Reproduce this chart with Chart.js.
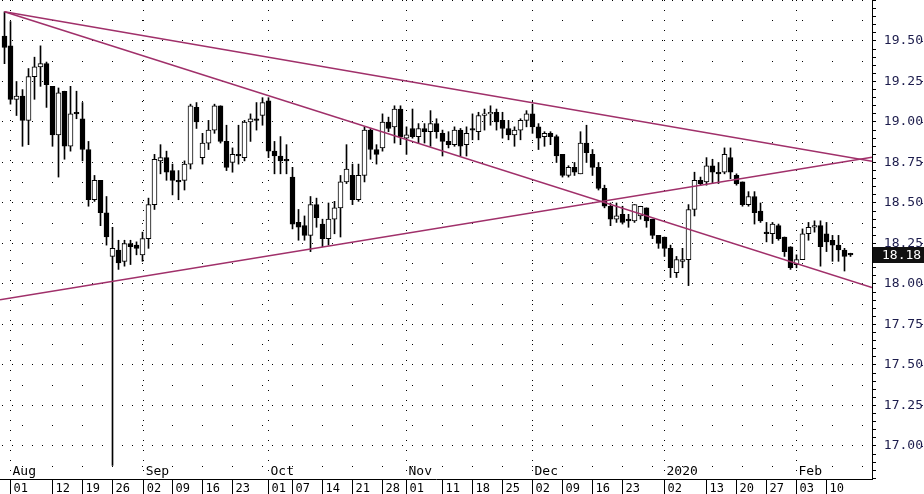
<!DOCTYPE html>
<html>
<head>
<meta charset="utf-8">
<script src="https://cdn.jsdelivr.net/npm/chart.js@4.4.1/dist/chart.umd.min.js"></script>
<style>
  html, body { margin: 0; padding: 0; background: #fff; }
</style>
</head>
<body>
<canvas id="chart" width="924" height="494"></canvas>
<script>
// daily candles, 31 Jul 2019 .. 14 Feb 2020 (index = trading day)
const opens = [
  19.53, 19.47, 19.14, 19.16, 19.01, 19.28, 19.34, 19.36, 19.22, 18.92,
  19.19, 18.85, 19.06, 19.02, 18.83, 18.52, 18.64, 18.44, 18.17, 18.21,
  18.14, 18.25, 18.24, 18.18, 18.28, 18.49, 18.76, 18.78, 18.70, 18.64,
  18.64, 18.74, 19.09, 18.78, 18.87, 18.95, 19.10, 18.88, 18.75, 18.80,
  18.78, 19.00, 19.02, 19.04, 19.13, 18.82, 18.79, 18.77, 18.66, 18.38,
  18.36, 18.30, 18.49, 18.37, 18.28, 18.40, 18.47, 18.63, 18.67, 18.52,
  18.67, 18.95, 18.83, 18.84, 19.00, 18.97, 19.08, 18.90, 18.96, 18.91,
  18.96, 18.94, 18.99, 18.93, 18.88, 18.86, 18.95, 18.86, 18.96, 18.94,
  19.04, 19.05, 19.06, 19.01, 18.96, 18.92, 18.95, 19.01, 19.05, 18.97,
  18.91, 18.93, 18.91, 18.80, 18.67, 18.72, 18.68, 18.87, 18.80, 18.72,
  18.59, 18.48, 18.40, 18.43, 18.40, 18.39, 18.42, 18.47, 18.40, 18.30,
  18.29, 18.22, 18.07, 18.14, 18.15, 18.46, 18.64, 18.63, 18.73, 18.69,
  18.69, 18.78, 18.67, 18.63, 18.49, 18.54, 18.45, 18.32, 18.31, 18.36,
  18.29, 18.23, 18.12, 18.15, 18.31, 18.35, 18.36, 18.31, 18.27, 18.24,
  18.21, 18.19
];
const highs = [
  19.68, 19.62, 19.25, 19.20, 19.33, 19.40, 19.47, 19.37, 19.22, 19.21,
  19.19, 19.22, 19.19, 19.12, 18.88, 18.67, 18.64, 18.54, 18.35, 18.27,
  18.27, 18.27, 18.26, 18.32, 18.53, 18.80, 18.86, 18.82, 18.74, 18.70,
  18.76, 19.11, 19.12, 18.93, 19.01, 19.11, 19.10, 18.98, 18.84, 18.98,
  19.01, 19.05, 19.12, 19.15, 19.15, 18.88, 18.91, 18.86, 18.72, 18.46,
  18.42, 18.54, 18.53, 18.40, 18.50, 18.51, 18.67, 18.86, 18.74, 18.74,
  18.97, 18.96, 18.86, 19.05, 19.03, 19.10, 19.10, 18.97, 19.08, 18.99,
  18.99, 19.07, 19.02, 18.95, 18.94, 18.97, 18.96, 18.97, 19.05, 19.06,
  19.08, 19.10, 19.08, 19.06, 19.01, 18.97, 19.02, 19.07, 19.11, 18.99,
  18.94, 18.94, 18.92, 18.80, 18.73, 18.75, 18.94, 18.98, 18.83, 18.75,
  18.61, 18.50, 18.50, 18.48, 18.43, 18.49, 18.48, 18.47, 18.40, 18.30,
  18.29, 18.24, 18.17, 18.22, 18.49, 18.69, 18.66, 18.78, 18.77, 18.75,
  18.84, 18.84, 18.68, 18.63, 18.57, 18.57, 18.50, 18.38, 18.38, 18.37,
  18.29, 18.23, 18.18, 18.34, 18.38, 18.39, 18.39, 18.38, 18.30, 18.30,
  18.22, 18.19
];
const lows = [
  19.36, 19.11, 19.04, 18.85, 18.86, 19.14, 19.22, 19.09, 18.85, 18.66,
  18.77, 18.82, 19.02, 18.76, 18.48, 18.51, 18.36, 18.24, 16.88, 18.09,
  18.11, 18.12, 18.18, 18.14, 18.22, 18.46, 18.68, 18.64, 18.55, 18.52,
  18.58, 18.71, 18.96, 18.74, 18.83, 18.93, 18.87, 18.70, 18.69, 18.74,
  18.76, 18.88, 18.95, 18.98, 18.78, 18.68, 18.68, 18.68, 18.34, 18.27,
  18.27, 18.20, 18.35, 18.23, 18.24, 18.31, 18.29, 18.62, 18.49, 18.51,
  18.63, 18.77, 18.74, 18.82, 18.94, 18.87, 18.86, 18.80, 18.90, 18.87,
  18.87, 18.85, 18.90, 18.79, 18.84, 18.85, 18.79, 18.79, 18.89, 18.89,
  18.95, 18.98, 18.95, 18.90, 18.89, 18.85, 18.89, 18.97, 18.93, 18.83,
  18.85, 18.86, 18.75, 18.66, 18.66, 18.67, 18.68, 18.75, 18.67, 18.58,
  18.47, 18.36, 18.38, 18.37, 18.35, 18.38, 18.40, 18.35, 18.28, 18.22,
  18.17, 18.04, 18.04, 18.10, 17.99, 18.42, 18.61, 18.61, 18.62, 18.62,
  18.68, 18.65, 18.61, 18.48, 18.48, 18.37, 18.38, 18.26, 18.25, 18.27,
  18.17, 18.09, 18.10, 18.15, 18.27, 18.32, 18.11, 18.20, 18.14, 18.14,
  18.08, 18.17
];
const closes = [
  19.46, 19.14, 19.16, 19.01, 19.28, 19.34, 19.36, 19.23, 18.92, 19.18,
  18.85, 19.05, 19.05, 18.83, 18.52, 18.64, 18.44, 18.29, 18.22, 18.13,
  18.25, 18.23, 18.22, 18.28, 18.49, 18.77, 18.78, 18.69, 18.64, 18.63,
  18.74, 19.10, 19.00, 18.87, 18.95, 19.10, 18.88, 18.72, 18.80, 18.79,
  19.00, 19.02, 19.01, 19.12, 18.82, 18.79, 18.76, 18.76, 18.37, 18.35,
  18.30, 18.49, 18.41, 18.28, 18.40, 18.47, 18.63, 18.71, 18.52, 18.67,
  18.95, 18.83, 18.80, 19.00, 18.96, 19.08, 18.91, 18.92, 18.91, 18.96,
  18.94, 18.99, 18.94, 18.88, 18.86, 18.95, 18.85, 18.93, 18.95, 19.04,
  19.05, 19.06, 19.00, 18.96, 18.92, 18.95, 19.01, 19.05, 18.97, 18.90,
  18.93, 18.91, 18.79, 18.67, 18.72, 18.69, 18.87, 18.81, 18.72, 18.59,
  18.48, 18.40, 18.42, 18.38, 18.39, 18.49, 18.48, 18.39, 18.30, 18.25,
  18.22, 18.10, 18.15, 18.15, 18.46, 18.64, 18.62, 18.73, 18.69, 18.68,
  18.80, 18.69, 18.62, 18.49, 18.54, 18.44, 18.39, 18.31, 18.37, 18.28,
  18.20, 18.10, 18.15, 18.31, 18.35, 18.36, 18.23, 18.26, 18.24, 18.21,
  18.17, 18.18
];

// bottom axis: week ticks and month captions (positions in trading-day index)
const dayTickIdx = [1, 8, 13, 18, 23.2, 28, 33, 38, 44, 48, 53, 58, 63, 67, 73, 78, 83, 88, 93, 98, 103, 110, 117, 122, 127, 132, 137];
const dayTickLabels = ['01', '12', '19', '26', '02', '09', '16', '23', '01', '07', '14', '21', '28', '01', '11', '18', '25', '02', '09', '16', '23', '02', '13', '20', '27', '03', '10'];
const monthIdx = [1, 23.2, 44, 67, 88, 110, 132];
const monthLabels = ['Aug', 'Sep', 'Oct', 'Nov', 'Dec', '2020', 'Feb'];

// price axis labels
const yLabelValues = [17.00, 17.25, 17.50, 17.75, 18.00, 18.25, 18.50, 18.75, 19.00, 19.25, 19.50];

// hand drawn trend lines [index, price]
const trendUpper = [[0, 19.68], [144.58, 18.757]];
const trendLower = [[0, 19.68], [144.58, 17.978]];
const trendRising = [[-0.75, 17.902], [144.58, 18.783]];

const xMin = -0.75;
const xMax = -0.75 + 872 / 6;
const yMax = 19.753;
const yMin = yMax - 479 / 162;

const lineColor = '#a0306a';
const labelFont = { family: 'DejaVu Sans Mono', size: 13, lineHeight: 0 };

const idx = closes.map((c, i) => i);
const bodies = idx.map(i => ({ x: i, y: [opens[i], closes[i]] }));
const wicks = idx.map(i => ({ x: i, y: [lows[i], highs[i]] }));

function toPoints(arr) {
  return arr.map(p => ({ x: p[0], y: p[1] }));
}

function yKind(v) {
  const m = Math.round(v * 1000);
  if (m % 250 === 0) return 'major';
  if (m % 125 === 0) return 'half';
  return 'minor';
}

// y tick list: every 0.05 plus the 0.125 dotted rows
const yTickValues = [];
for (let k = 336; k <= 395; k++) yTickValues.push(k * 5 / 100);
for (let k = 135; k <= 157; k += 2) yTickValues.push(k * 125 / 1000);

const overlay = {
  id: 'overlay',
  afterDraw(chart) {
    const { ctx, chartArea } = chart;
    const x = chart.scales.x;
    const y = chart.scales.y;
    ctx.save();
    ctx.fillStyle = '#000';
    ctx.font = '13px "DejaVu Sans Mono"';
    ctx.textAlign = 'left';
    ctx.textBaseline = 'alphabetic';
    monthLabels.forEach((m, k) => {
      ctx.fillText(m, x.getPixelForValue(monthIdx[k]) + 2, chartArea.bottom - 4);
    });

    // little marks at the far right of each price label
    ctx.fillStyle = '#1c1c4c';
    yLabelValues.forEach(v => {
      ctx.fillRect(chart.width - 3, Math.round(y.getPixelForValue(v)), 2, 1);
    });

    // last price box
    const last = closes[closes.length - 1];
    const py = Math.round(y.getPixelForValue(last));
    ctx.fillStyle = '#111';
    ctx.fillRect(chartArea.right + 1, py - 8, chart.width - chartArea.right - 1, 16);
    ctx.fillStyle = '#fff';
    ctx.textBaseline = 'middle';
    ctx.fillText(last.toFixed(2), chartArea.right + 10, py + 0.5);
    ctx.restore();
  }
};

new Chart(document.getElementById('chart'), {
  type: 'bar',
  data: {
    datasets: [
      { type: 'line', data: toPoints(trendUpper), borderColor: lineColor, borderWidth: 1.5, pointRadius: 0, order: 0 },
      { type: 'line', data: toPoints(trendLower), borderColor: lineColor, borderWidth: 1.5, pointRadius: 0, order: 0 },
      { type: 'line', data: toPoints(trendRising), borderColor: lineColor, borderWidth: 1.5, pointRadius: 0, order: 0 },
      {
        data: bodies,
        backgroundColor: c => closes[c.dataIndex] >= opens[c.dataIndex] ? '#ffffff' : '#000000',
        borderColor: '#000',
        borderWidth: 1,
        borderSkipped: false,
        barThickness: 5,
        grouped: false,
        order: 1
      },
      {
        data: wicks,
        backgroundColor: '#000',
        barThickness: 1,
        grouped: false,
        order: 2
      }
    ]
  },
  options: {
    responsive: false,
    animation: false,
    layout: { padding: 0 },
    plugins: { legend: { display: false }, tooltip: { enabled: false } },
    scales: {
      x: {
        type: 'linear',
        min: xMin,
        max: xMax,
        offset: false,
        afterBuildTicks: s => { s.ticks = dayTickIdx.map(v => ({ value: v })); },
        afterFit: s => { s.height = 15; },
        ticks: {
          autoSkip: false,
          maxRotation: 0,
          minRotation: 0,
          align: 'start',
          labelOffset: 3,
          padding: -12,
          color: '#000',
          font: { family: 'DejaVu Sans Mono', size: 12 },
          callback: (v, i) => dayTickLabels[i]
        },
        grid: {
          offset: false,
          color: c => (c.tick && monthIdx.includes(c.tick.value)) ? '#000' : 'rgba(0,0,0,0)',
          tickColor: '#000',
          tickBorderDash: [],
          tickLength: 15,
          lineWidth: 1
        },
        border: { display: true, color: '#000', width: 1, dash: [1, 9] }
      },
      y: {
        position: 'right',
        min: yMin,
        max: yMax,
        afterBuildTicks: s => { s.ticks = yTickValues.map(v => ({ value: v })); },
        afterFit: s => { s.width = 52; },
        ticks: {
          autoSkip: false,
          padding: 0,
          color: '#1c1c4c',
          font: labelFont,
          callback: v => yLabelValues.some(t => Math.abs(t - v) < 1e-6) ? ' ' + v.toFixed(2) : ''
        },
        grid: {
          offset: false,
          color: c => (c.tick && yKind(c.tick.value) === 'minor') ? 'rgba(0,0,0,0)' : '#000',
          tickColor: c => (c.tick && yKind(c.tick.value) === 'half') ? 'rgba(0,0,0,0)' : '#000',
          tickBorderDash: [],
          tickLength: 4,
          lineWidth: 1
        },
        border: {
          display: true,
          color: '#000',
          width: 1,
          dash: c => (c.tick && yKind(c.tick.value) === 'half') ? [1, 29] : [1, 9],
          dashOffset: 8
        }
      }
    }
  },
  plugins: [overlay]
});
</script>
